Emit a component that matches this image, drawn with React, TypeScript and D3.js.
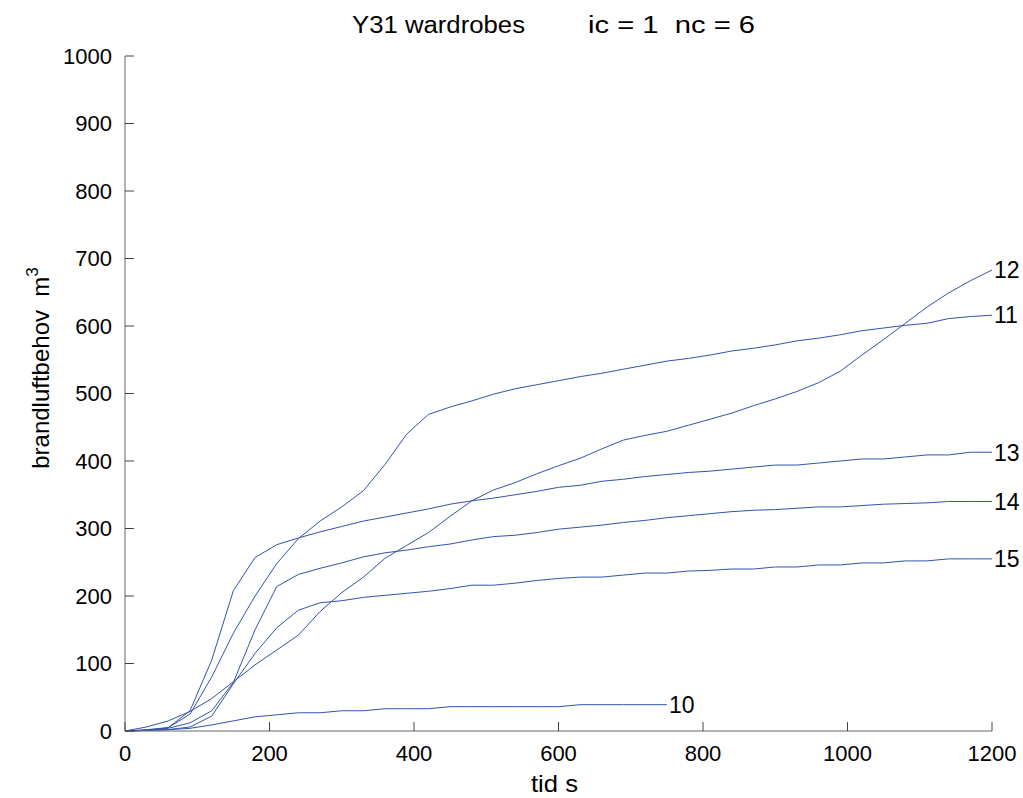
import React from "react";
import * as d3 from "d3";

const times = d3.range(0, 1201, 30);
const times10 = d3.range(0, 751, 30);

const s10 = [0, 1, 2, 4, 9, 15, 21, 24, 27, 27, 30, 30, 33, 33, 33, 36, 36, 36, 36, 36, 36, 39, 39, 39, 39, 39];
const s11 = [0, 2, 5, 25, 80, 145, 200, 248, 285, 311, 332, 356, 395, 440, 469, 480, 489, 499, 507, 513, 519, 525, 530, 536, 542, 548, 552, 557, 563, 567, 572, 578, 582, 587, 593, 597, 601, 604, 611, 614, 616];
const s12 = [0, 6, 15, 29, 48, 73, 98, 120, 142, 177, 205, 228, 256, 275, 294, 318, 341, 357, 368, 381, 393, 404, 418, 431, 438, 444, 453, 462, 471, 482, 492, 503, 516, 533, 557, 580, 604, 628, 649, 667, 683];
const s13 = [0, 1, 5, 30, 105, 208, 257, 276, 286, 295, 303, 311, 317, 323, 329, 336, 341, 345, 350, 355, 361, 364, 370, 373, 377, 380, 383, 385, 388, 391, 394, 394, 397, 400, 403, 403, 406, 409, 409, 413, 413];
const s14 = [0, 1, 4, 12, 30, 72, 150, 214, 232, 241, 249, 258, 264, 268, 273, 277, 283, 288, 290, 294, 299, 302, 305, 309, 312, 316, 319, 322, 325, 327, 328, 330, 332, 332, 334, 336, 337, 338, 340, 340, 340];
const s15 = [0, 1, 2, 6, 22, 70, 115, 153, 179, 190, 193, 198, 201, 204, 207, 211, 216, 216, 219, 223, 226, 228, 228, 231, 234, 234, 237, 238, 240, 240, 243, 243, 246, 246, 249, 249, 252, 252, 255, 255, 255];

const seriesNames = ["10", "11", "12", "13", "14", "15"];
const seriesValues = [s10, s11, s12, s13, s14, s15];
const seriesTimes = [times10, times, times, times, times, times];

const xTicks = [0, 200, 400, 600, 800, 1000, 1200];
const yTicks = [0, 100, 200, 300, 400, 500, 600, 700, 800, 900, 1000];

const titleLeft = "Y31 wardrobes";
const titleRight = "ic = 1  nc = 6";
const xLabel = "tid s";
const yLabel = "brandluftbehov  m";

const W = 1023;
const H = 798;
const left = 125;
const right = 992;
const top = 56;
const bottom = 731;
const lineColor = "#3353ad";
const font = "'Liberation Sans', Arial, sans-serif";

export default function App() {
  const x = d3.scaleLinear().domain([0, 1200]).range([left, right]);
  const y = d3.scaleLinear().domain([0, 1000]).range([bottom, top]);
  const line = d3
    .line<[number, number]>()
    .x((d) => x(d[0]))
    .y((d) => y(d[1]));

  return (
    <svg
      width={W}
      height={H}
      style={{ position: "absolute", left: 0, top: 0, background: "#fff" }}
      fontFamily={font}
    >
      <rect x={0} y={0} width={W} height={H} fill="#fff" />
      {seriesValues.map((vals, i) => {
        const pts: [number, number][] = vals.map((v, j) => [seriesTimes[i][j], v]);
        const last = pts[pts.length - 1];
        return (
          <g key={seriesNames[i]}>
            <path d={line(pts) || ""} fill="none" stroke={lineColor} strokeWidth={1} />
            <text
              x={x(last[0]) + 2}
              y={y(last[1])}
              dy="0.36em"
              fontSize={23}
              fill="#000"
            >
              {seriesNames[i]}
            </text>
          </g>
        );
      })}
      <line x1={left} y1={top} x2={left} y2={bottom} stroke="#666" strokeWidth={1} />
      <line x1={left} y1={bottom} x2={right} y2={bottom} stroke="#666" strokeWidth={1} />
      {xTicks.map((t) => (
        <g key={"x" + t}>
          <line x1={x(t)} x2={x(t)} y1={bottom} y2={bottom - 9} stroke="#444" />
          <text x={x(t)} y={bottom + 30} textAnchor="middle" fontSize={22} fill="#000">
            {t}
          </text>
        </g>
      ))}
      {yTicks.map((t) => (
        <g key={"y" + t}>
          <line x1={left} x2={left + 9} y1={y(t)} y2={y(t)} stroke="#444" />
          <text x={left - 13} y={y(t)} dy="0.36em" textAnchor="end" fontSize={22} fill="#000">
            {t}
          </text>
        </g>
      ))}
      <text x={352} y={33} fontSize={23} fill="#000" textLength={173} lengthAdjust="spacingAndGlyphs">
        {titleLeft}
      </text>
      <text
        x={588}
        y={33}
        fontSize={23}
        fill="#000"
        textLength={167}
        lengthAdjust="spacingAndGlyphs"
        style={{ whiteSpace: "pre" }}
      >
        {titleRight}
      </text>
      <text x={531} y={792} fontSize={24} fill="#000" textLength={47} lengthAdjust="spacingAndGlyphs">
        {xLabel}
      </text>
      <text
        transform={`translate(49, 368) rotate(-90)`}
        textAnchor="middle"
        fontSize={24}
        fill="#000"
        style={{ whiteSpace: "pre" }}
      >
        {yLabel}
        <tspan dy={-11} fontSize={17}>3</tspan>
      </text>
    </svg>
  );
}
